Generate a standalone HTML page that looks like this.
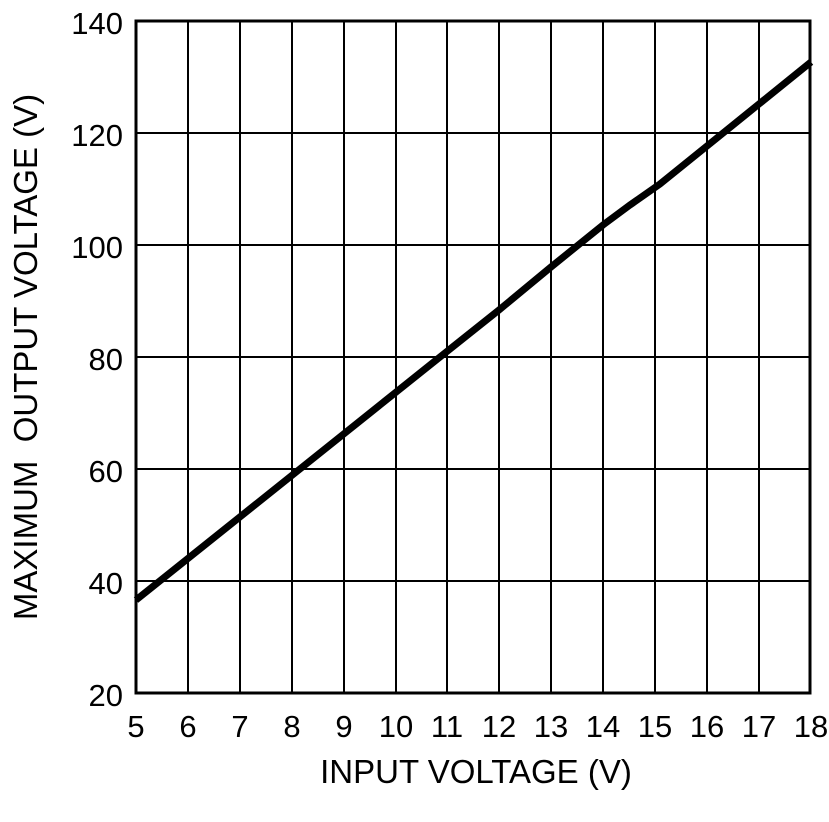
<!DOCTYPE html>
<html><head><style>body{margin:0;background:#fff}</style></head><body>
<svg width="829" height="817" xmlns="http://www.w3.org/2000/svg" font-family="Liberation Sans, sans-serif" font-size="31">
<rect width="829" height="817" fill="#fff"/>
<g stroke="#000" stroke-width="2">
<line x1="188" y1="21" x2="188" y2="693"/><line x1="240" y1="21" x2="240" y2="693"/><line x1="292" y1="21" x2="292" y2="693"/><line x1="344" y1="21" x2="344" y2="693"/><line x1="396" y1="21" x2="396" y2="693"/><line x1="447" y1="21" x2="447" y2="693"/><line x1="499" y1="21" x2="499" y2="693"/><line x1="551" y1="21" x2="551" y2="693"/><line x1="603" y1="21" x2="603" y2="693"/><line x1="655" y1="21" x2="655" y2="693"/><line x1="707" y1="21" x2="707" y2="693"/><line x1="759" y1="21" x2="759" y2="693"/>
<line x1="136" y1="133" x2="810" y2="133"/><line x1="136" y1="245" x2="810" y2="245"/><line x1="136" y1="357" x2="810" y2="357"/><line x1="136" y1="469" x2="810" y2="469"/><line x1="136" y1="581" x2="810" y2="581"/>
</g>
<rect x="136" y="21" width="674" height="672" fill="none" stroke="#000" stroke-width="3"/>
<polyline fill="none" stroke="#000" stroke-width="7" points="136,600 440,357 499,310 551,267 603,225 630,205 660,184 811,62"/>
<g text-anchor="end">
<text x="123" y="34">140</text><text x="123" y="146">120</text><text x="123" y="258">100</text><text x="123" y="370">80</text><text x="123" y="482">60</text><text x="123" y="594">40</text><text x="123" y="706">20</text>
</g>
<g text-anchor="middle">
<text x="136" y="737">5</text><text x="188" y="737">6</text><text x="240" y="737">7</text><text x="292" y="737">8</text><text x="344" y="737">9</text><text x="396" y="737">10</text><text x="447" y="737">11</text><text x="499" y="737">12</text><text x="551" y="737">13</text><text x="603" y="737">14</text><text x="655" y="737">15</text><text x="707" y="737">16</text><text x="759" y="737">17</text><text x="811" y="737">18</text>
<text x="476" y="783" font-size="33">INPUT VOLTAGE (V)</text>
<text transform="translate(37,357) rotate(-90)" font-size="33" xml:space="preserve">MAXIMUM  OUTPUT VOLTAGE (V)</text>
</g>
</svg>
</body></html>
